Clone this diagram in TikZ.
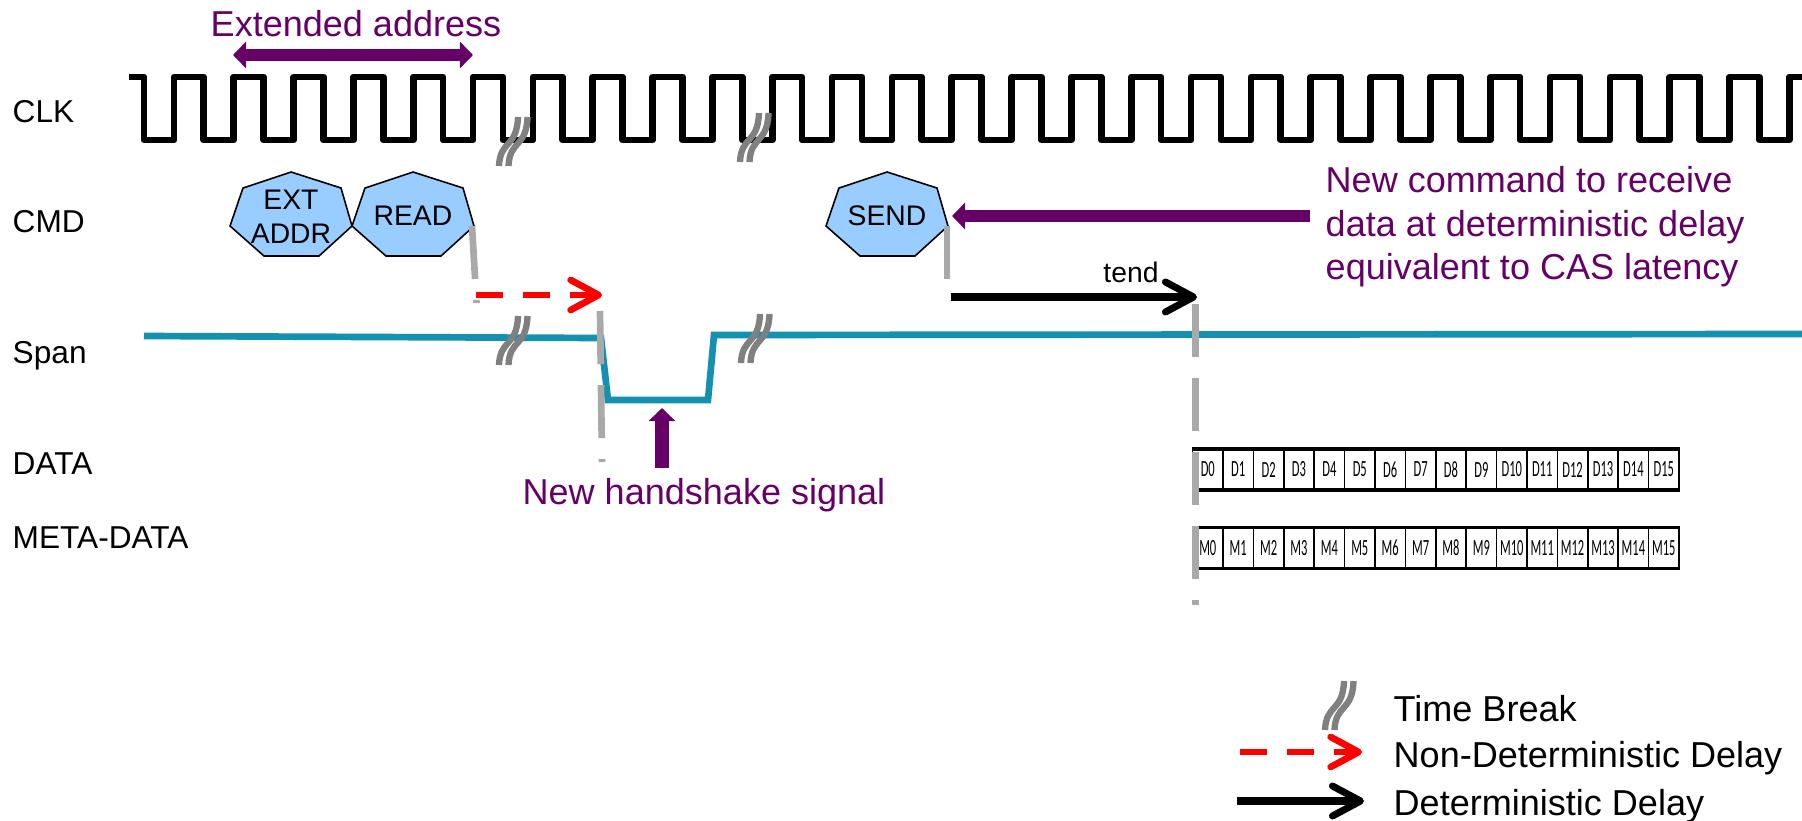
\documentclass[tikz,border=0pt]{standalone}
\usepackage{fontspec}
\setmainfont{Liberation Sans}
\newfontfamily\cellfont{Carlito}
\usetikzlibrary{arrows.meta}

\definecolor{notepurple}{HTML}{660066}
\definecolor{spanteal}{HTML}{1490B0}
\definecolor{cmdblue}{HTML}{99CCFF}
\definecolor{tickgray}{HTML}{A9A9A9}
\definecolor{breakgray}{HTML}{808080}

\tikzset{
  pics/timebreak/.style={code={
    \draw[breakgray,line width=1.8pt] (0,0) .. controls (1,-26) and (18,-18) .. (19,-49);
    \draw[breakgray,line width=1.8pt] (9.5,0) .. controls (10.5,-26) and (27.5,-18) .. (28.5,-49);
  }}
}

\begin{document}
\begin{tikzpicture}[x=0.01cm,y=-0.01cm,>={Straight Barb[length=2.8mm,width=3mm,round]},
                    main node/.style={inner sep=0pt,font=\fontsize{8.05}{9.7}\selectfont,align=center},
                    row label/.style={inner sep=0pt,anchor=base west,font=\fontsize{9}{10}\selectfont},
                    legend label/.style={inner sep=0pt,anchor=base west,font=\fontsize{10.25}{12}\selectfont},
                    note/.style={inner sep=0pt,notepurple,font=\fontsize{10.25}{12.4}\selectfont},
                    cmd shape/.style={draw=black,fill=cmdblue,line width=0.45pt},
                    cell node/.style={draw=black,line width=0.45pt,inner sep=0pt,minimum width=0.304cm,minimum height=0.39cm,
                                      font=\cellfont\fontsize{6.6}{7}\selectfont},
                    bar line/.style={line width=1pt},
                    clk line/.style={line width=1.9pt,line join=round},
                    span line/.style={spanteal,line width=1.9pt,line join=miter},
                    gray tick/.style={tickgray,line width=1.9pt,dash pattern=on 0.53cm off 0.21cm},
                    nondet/.style={->,red,line width=1.9pt},
                    det/.style={->,black,line width=2pt},
                    thick purple/.style={notepurple,line width=3.6pt,
                                         arrows={-{Triangle[length=1.3mm,width=2.6mm]}}}]
  \useasboundingbox (0,0) rectangle (1802,821);

  % row labels
  \node[row label] (clklabel) at (12,123) {CLK};
  \node[row label] (cmdlabel) at (12,232) {CMD};
  \node[row label] (spanlabel) at (12,363) {Span};
  \node[row label] (datalabel) at (12,474) {DATA};
  \node[row label] (metalabel) at (12,548) {META-DATA};

  % clock
  \draw[clk line] (129,77)
    \foreach \k in {0,...,27} {
      -- ({144+59.83*\k},77) -- ({144+59.83*\k},140) -- ({174+59.83*\k},140) -- ({174+59.83*\k},77)
    } -- (1802,77);

  % commands
  \foreach \name/\xpos/\txt/\ypos in {extaddr/291/{EXT\\ADDR}/217,read/413/READ/216,send/887/SEND/216} {
    \draw[cmd shape,shift={(\xpos,0)}] (0,172) -- (50,188) -- (61,226) -- (28,256) -- (-27,256) -- (-61,226) -- (-48,188) -- cycle;
    \node[main node] (\name) at (\xpos,\ypos) {\txt};
  }

  % span signal
  \coordinate (span0) at (144,336);
  \coordinate (span1) at (601,338);
  \coordinate (span2) at (608,400);
  \coordinate (span3) at (708,400);
  \coordinate (span4) at (714,335);
  \coordinate (span5) at (1802,334);
  \draw[span line] (span0) -- (span1) -- (span2) -- (span3) -- (span4) -- (span5);

  % data bursts
  \foreach \i in {0,...,15} {
    \node[cell node] (d\i) at ({1207.8+30.4*\i},469.5) {\scalebox{0.54}[1]{D\i}};
    \node[cell node] (m\i) at ({1207.8+30.4*\i},548) {\scalebox{0.54}[1]{M\i}};
  }
  \draw[bar line] (d0.north west) -- (d15.north east);
  \draw[bar line] (d0.south west) -- (d15.south east);
  \draw[bar line] (m0.north west) -- (m15.north east);
  \draw[bar line] (m0.south west) -- (m15.south east);

  % ticks
  \coordinate (readtick) at (472,226);
  \coordinate (readend) at (476.5,303);
  \coordinate (spantick) at (600,311);
  \coordinate (spanend) at (602,462);
  \coordinate (sendtick) at (947,226);
  \coordinate (sendend) at (947,280);
  \coordinate (tendtick) at (1195.5,304);
  \coordinate (tendend) at (1195.5,605);
  \draw[gray tick] (readtick) -- (readend);
  \draw[gray tick] (spantick) -- (spanend);
  \draw[gray tick] (sendtick) -- (sendend);
  \draw[gray tick] (tendtick) -- (tendend);

  % time breaks
  \pic at (499,166) {timebreak};
  \pic at (740,162) {timebreak};
  \pic at (499,365) {timebreak};
  \pic at (741,363) {timebreak};

  % delays
  \coordinate (nondetstart) at (476,295);
  \coordinate (nondetend) at (602,295);
  \coordinate (detstart) at (951,297);
  \coordinate (detend) at (1197,297);
  \draw[nondet,dash pattern=on 0.27cm off 0.20cm] (nondetstart) -- (nondetend);
  \draw[det] (detstart) -- (detend);
  \node[main node,anchor=base] (tend) at (1131,282) {tend};

  % notes
  \node[note,anchor=base] (extlabel) at (356,37) {Extended address};
  \coordinate (extleft) at (233,55);
  \coordinate (extright) at (473,55);
  \draw[thick purple,arrows={{Triangle[length=1.3mm,width=2.6mm]}-{Triangle[length=1.3mm,width=2.6mm]}}] (extleft) -- (extright);

  \node[note,align=left,anchor=west] (sendnote) at (1325,227) {New command to receive\\data at deterministic delay\\equivalent to CAS latency};
  \coordinate (sendnotestart) at (1310,216);
  \coordinate (sendnoteend) at (952,216);
  \draw[thick purple] (sendnotestart) -- (sendnoteend);

  \node[note,anchor=base] (handlabel) at (704,504) {New handshake signal};
  \coordinate (handstart) at (662,468);
  \coordinate (handend) at (662,408);
  \draw[thick purple,line width=3.9pt] (handstart) -- (handend);

  % legend
  \pic at (1325,730) {timebreak};
  \node[legend label] (breaklabel) at (1393,721) {Time Break};
  \node[legend label] (nondetlabel) at (1393,767) {Non-Deterministic Delay};
  \node[legend label] (detlabel) at (1393,815) {Deterministic Delay};
  \coordinate (legredstart) at (1240,752);
  \coordinate (legredend) at (1362,752);
  \coordinate (legblackstart) at (1237,801);
  \coordinate (legblackend) at (1364,801);
  \draw[nondet,dash pattern=on 0.27cm off 0.20cm] (legredstart) -- (legredend);
  \draw[det] (legblackstart) -- (legblackend);
\end{tikzpicture}
\end{document}
